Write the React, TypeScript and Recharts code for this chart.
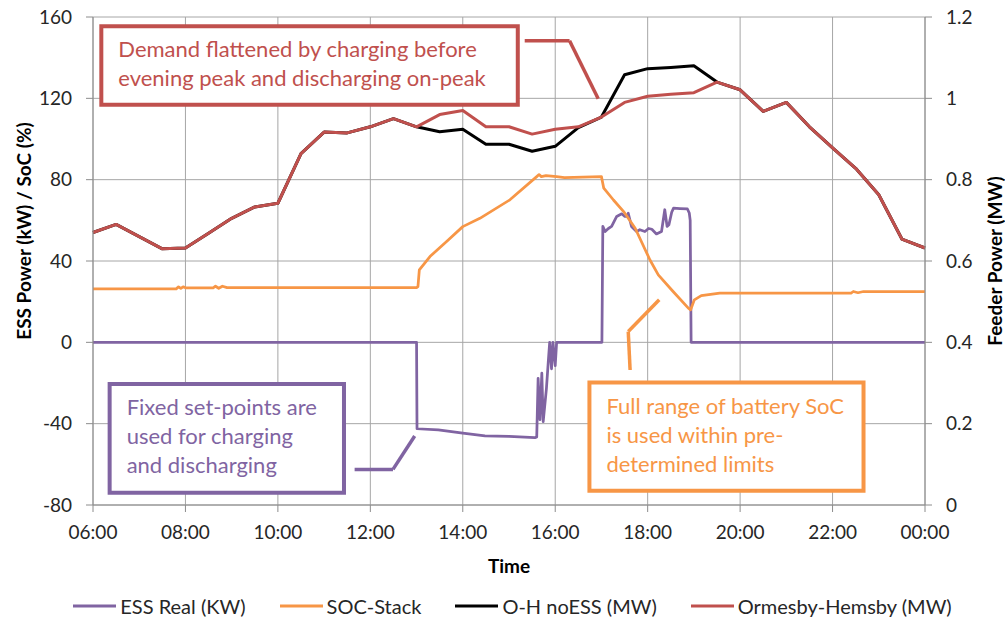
import { CartesianGrid, Legend, Line, LineChart, ReferenceArea, ReferenceLine, XAxis, YAxis } from "recharts";

const FONT = "Lato, 'Open Sans', sans-serif";
const PURPLE = "#8064a2";
const ORANGE = "#f79646";
const BLACK = "#000000";
const RED = "#c0504d";
const GRID = "#a6a6a6";
const AXIS = "#8c8c8c";
const TEXT = "#262626";

// half-hourly feeder readings (MW)
const halfHours = [6, 6.5, 7, 7.5, 8, 8.5, 9, 9.5, 10, 10.5, 11, 11.5, 12, 12.5, 13, 13.5, 14, 14.5, 15, 15.5, 16, 16.5, 17, 17.5, 18, 18.5, 19, 19.5, 20, 20.5, 21, 21.5, 22, 22.5, 23, 23.5, 24];
const ormesbyMW = [0.67, 0.69, 0.66, 0.63, 0.632, 0.668, 0.705, 0.733, 0.742, 0.864, 0.917, 0.915, 0.93, 0.95, 0.93, 0.96, 0.97, 0.93, 0.93, 0.912, 0.924, 0.93, 0.954, 0.99, 1.005, 1.01, 1.014, 1.04, 1.021, 0.968, 0.99, 0.93, 0.878, 0.828, 0.763, 0.654, 0.632];
const noEssMW = [0.67, 0.69, 0.66, 0.63, 0.632, 0.668, 0.705, 0.733, 0.742, 0.864, 0.917, 0.915, 0.93, 0.95, 0.93, 0.918, 0.924, 0.887, 0.887, 0.87, 0.882, 0.928, 0.954, 1.058, 1.073, 1.076, 1.08, 1.04, 1.021, 0.968, 0.99, 0.93, 0.878, 0.828, 0.763, 0.654, 0.632];

// ESS real power (kW)
const essHours = [6, 13.0, 13.01, 13.47, 14.0, 14.48, 15.0, 15.56, 15.6, 15.63, 15.67, 15.71, 15.74, 15.81, 15.85, 15.88, 15.92, 15.95, 16.0, 16.03, 17.01, 17.03, 17.08, 17.15, 17.22, 17.33, 17.44, 17.5, 17.55, 17.58, 17.65, 17.76, 17.83, 17.94, 18.02, 18.09, 18.19, 18.3, 18.37, 18.42, 18.46, 18.52, 18.56, 18.7, 18.86, 18.9, 18.92, 18.94, 24];
const essKW = [0, 0, -42.5, -43.1, -44.7, -46, -46.3, -46.9, -46.5, -17.7, -38, -15.2, -39, -22.6, -9.5, 0, -13, 0, -11.5, 0, 0, 57, 54.5, 56, 57, 61.9, 63.2, 62, 61.9, 63.5, 57, 54.5, 55.4, 54.5, 56, 55.6, 53.3, 54.5, 65.2, 57, 57.8, 64, 66, 65.8, 65.6, 63.6, 60, 0, 0];

// battery state of charge (%)
const socHours = [6, 7.8, 7.85, 7.9, 7.95, 8.0, 8.1, 8.6, 8.65, 8.72, 8.8, 8.9, 13.0, 13.03, 13.06, 13.29, 13.65, 14.0, 14.37, 15.02, 15.6, 15.65, 15.7, 15.8, 16.03, 16.2, 17.0, 17.05, 17.26, 17.48, 17.73, 18.05, 18.23, 18.55, 18.88, 18.93, 19.01, 19.16, 19.56, 22.4, 22.45, 22.55, 22.67, 24];
const socPct = [26.3, 26.3, 27.3, 26.5, 27.3, 26.8, 26.8, 26.8, 27.6, 26.6, 27.6, 26.9, 26.9, 27.4, 35.6, 42.2, 49.6, 56.9, 61, 70.1, 81.5, 82.5, 81.5, 82, 81.5, 81, 81.5, 75.8, 70, 64.3, 56.1, 40.5, 33.2, 25, 16.8, 16, 20.9, 23, 24.2, 24.2, 25, 24.4, 25, 25];

const seriesOrder = ["ESS Real (KW)", "SOC-Stack", "O-H noESS (MW)", "Ormesby-Hemsby (MW)"];
const timeTicks = [6, 8, 10, 12, 14, 16, 18, 20, 22, 24];
const powerTicks = [-80, -40, 0, 40, 80, 120, 160];
const feederTicks = [0, 0.2, 0.4, 0.6, 0.8, 1, 1.2];

const notes = [
  {
    color: RED,
    lines: ["Demand flattened by charging before", "evening peak and discharging on-peak"],
    x1: 6.18, x2: 15.19, y1: 116.8, y2: 155.4,
    pointer: [[15.34, 148.3], [16.31, 148.3], [16.93, 119.8]],
  },
  {
    color: PURPLE,
    lines: ["Fixed set-points are", "used for charging", "and discharging"],
    x1: 6.36, x2: 11.43, y1: -74, y2: -20.5,
    pointer: [[11.66, -62.5], [12.49, -62.5], [12.96, -46.1]],
  },
  {
    color: ORANGE,
    lines: ["Full range of battery SoC", "is used within pre-", "determined limits"],
    x1: 16.74, x2: 22.67, y1: -73, y2: -19.8,
    pointer: [[17.62, -13.6], [17.58, 5.3], [18.25, 20.9]],
  },
];

const rows = (xs: number[], ys: number[]) => xs.map((h, i) => ({ h, v: ys[i] }));
const fmtTime = (h: number) => `${String(h % 24).padStart(2, "0")}:00`;

const noteLabel = (lines: string[], color: string) => (p: any) => {
  const vb = p.viewBox;
  return (
    <text x={vb.x + 17} y={vb.y + 31} fill={color} fontSize={22} fontFamily={FONT}>
      {lines.map((l, i) => (
        <tspan key={i} x={vb.x + 17} dy={i === 0 ? 0 : 29}>{l}</tspan>
      ))}
    </text>
  );
};

const tickStyle = { fill: TEXT, fontSize: 19, fontFamily: FONT };

export default function App() {
  return (
    <div style={{ position: "absolute", left: 0, top: 0, fontFamily: FONT }}>
      <LineChart width={1005} height={625} margin={{ top: 17, right: 0, bottom: 6, left: 0 }}>
        <CartesianGrid yAxisId="left" stroke={GRID} />
        <XAxis
          type="number" dataKey="h" domain={[6, 24]} ticks={timeTicks} tickFormatter={fmtTime}
          stroke={AXIS} tickSize={7} tickMargin={14} tick={tickStyle} height={88}
          label={{
            content: (p: any) => (
              <text x={p.viewBox.x + p.viewBox.width / 2} y={p.viewBox.y + 68} textAnchor="middle" fontWeight="bold" fontSize={19} fontFamily={FONT} fill="#000">Time</text>
            ),
          }}
        />
        <YAxis
          yAxisId="left" domain={[-80, 160]} ticks={powerTicks} width={93} stroke={AXIS}
          tickSize={7} tickMargin={14} tick={tickStyle}
          label={{
            content: () => (
              <text x={23} y={231} transform="rotate(-90 23 231)" textAnchor="middle" dominantBaseline="central" fontWeight="bold" fontSize={19} fontFamily={FONT} fill="#000">ESS Power (kW) / SoC (%)</text>
            ),
          }}
        />
        <YAxis
          yAxisId="right" orientation="right" domain={[0, 1.2]} ticks={feederTicks} width={80} stroke={AXIS}
          tickSize={7} tickMargin={14} tick={tickStyle} tickFormatter={(v: number) => String(Math.round(v * 10) / 10)}
          label={{
            content: () => (
              <text x={994} y={261} transform="rotate(-90 994 261)" textAnchor="middle" dominantBaseline="central" fontWeight="bold" fontSize={19} fontFamily={FONT} fill="#000">Feeder Power (MW)</text>
            ),
          }}
        />
        <Legend
          verticalAlign="bottom"
          wrapperStyle={{ height: 26 }}
          content={(p: any) => {
            const items = [...(p.payload || [])].sort((a: any, b: any) => seriesOrder.indexOf(a.value) - seriesOrder.indexOf(b.value));
            return (
              <div style={{ display: "flex", justifyContent: "center", gap: 34, paddingLeft: 20, fontFamily: FONT, fontSize: 20, color: TEXT, lineHeight: "26px" }}>
                {items.map((e: any) => (
                  <span key={e.value} style={{ display: "flex", alignItems: "center" }}>
                    <svg width={43} height={4} style={{ marginRight: 4 }}>
                      <line x1={0} y1={2} x2={43} y2={2} stroke={e.color} strokeWidth={3} />
                    </svg>
                    {e.value}
                  </span>
                ))}
              </div>
            );
          }}
        />
        {notes.map((n) => (
          <ReferenceArea
            key={n.lines[0]} yAxisId="left" x1={n.x1} x2={n.x2} y1={n.y1} y2={n.y2}
            fill="#ffffff" fillOpacity={1} stroke={n.color} strokeWidth={4}
            label={noteLabel(n.lines, n.color)}
          />
        ))}
        {notes.flatMap((n) =>
          n.pointer.slice(1).map((pt, i) => (
            <ReferenceLine
              key={n.lines[0] + i} yAxisId="left"
              segment={[{ x: n.pointer[i][0], y: n.pointer[i][1] }, { x: pt[0], y: pt[1] }]}
              stroke={n.color} strokeWidth={3.5}
            />
          ))
        )}
        <Line yAxisId="left" data={rows(essHours, essKW)} dataKey="v" name="ESS Real (KW)" stroke={PURPLE} strokeWidth={2.75} dot={false} isAnimationActive={false} strokeLinejoin="round" />
        <Line yAxisId="left" data={rows(socHours, socPct)} dataKey="v" name="SOC-Stack" stroke={ORANGE} strokeWidth={2.75} dot={false} isAnimationActive={false} strokeLinejoin="round" />
        <Line yAxisId="right" data={rows(halfHours, noEssMW)} dataKey="v" name="O-H noESS (MW)" stroke={BLACK} strokeWidth={3} dot={false} isAnimationActive={false} strokeLinejoin="round" />
        <Line yAxisId="right" data={rows(halfHours, ormesbyMW)} dataKey="v" name="Ormesby-Hemsby (MW)" stroke={RED} strokeWidth={3} dot={false} isAnimationActive={false} strokeLinejoin="round" />
      </LineChart>
    </div>
  );
}
